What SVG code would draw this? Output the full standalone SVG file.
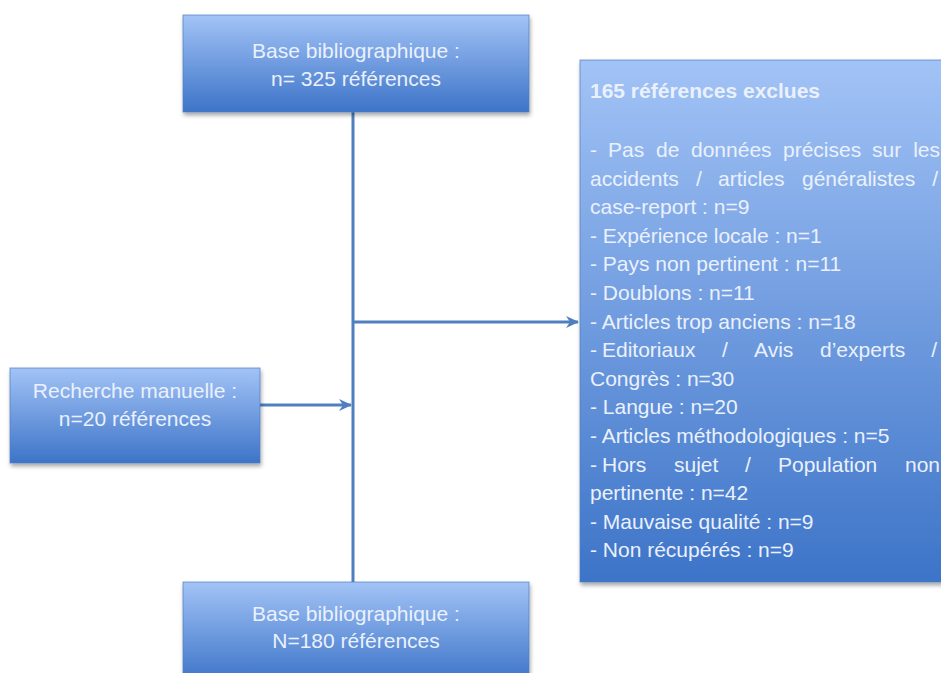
<svg xmlns="http://www.w3.org/2000/svg" width="941" height="673" viewBox="0 0 941 673">
<style>
.box{stroke:#4f7fc0;stroke-width:1;stroke-opacity:0.7;filter:url(#sh)}
.t{font-family:"Liberation Sans",Arial,sans-serif;font-size:21px;fill:#eaf1fc}
.c{text-anchor:middle}
.b{font-weight:bold}
.ln{stroke:#4f7fbf;stroke-width:3;fill:none}
</style>
<defs>
<linearGradient id="g" x1="0" y1="0" x2="0" y2="1">
<stop offset="0" stop-color="#a2c3f6"/>
<stop offset="1" stop-color="#3d74c8"/>
</linearGradient>
<filter id="sh" x="-5%" y="-5%" width="115%" height="120%">
<feGaussianBlur in="SourceAlpha" stdDeviation="2"/>
<feOffset dx="1" dy="3" result="o"/>
<feComponentTransfer><feFuncA type="linear" slope="0.35"/></feComponentTransfer>
<feMerge><feMergeNode/><feMergeNode in="SourceGraphic"/></feMerge>
</filter>
<marker id="ar" markerUnits="userSpaceOnUse" markerWidth="14" markerHeight="14" viewBox="0 0 14 14" refX="12" refY="7" orient="auto">
<path d="M0,1 L13,7 L0,13 L4,7 Z" fill="#4f7fbf"/>
</marker>
</defs>
<rect width="941" height="673" fill="#ffffff"/>
<g id="connectors">
<line class="ln" x1="353" y1="112" x2="353" y2="582"/>
<line class="ln" x1="260" y1="405" x2="351" y2="405" marker-end="url(#ar)"/>
<line class="ln" x1="354" y1="322" x2="578" y2="322" marker-end="url(#ar)"/>
</g>
<g id="node-top">
<rect class="box" x="183" y="15" width="346" height="97" fill="url(#g)"/>
<text class="t c" x="356" y="58">Base bibliographique :</text>
<text class="t c" x="356" y="86">n= 325 références</text>
</g>
<g id="node-left">
<rect class="box" x="10" y="368" width="250" height="95" fill="url(#g)"/>
<text class="t c" x="135" y="398">Recherche manuelle :</text>
<text class="t c" x="135" y="426">n=20 références</text>
</g>
<g id="node-bottom">
<rect class="box" x="183" y="582" width="346" height="100" fill="url(#g)"/>
<text class="t c" x="356" y="621">Base bibliographique :</text>
<text class="t c" x="356" y="648">N=180 références</text>
</g>
<g id="node-excluded">
<rect class="box" x="580" y="60" width="370" height="522" fill="url(#g)"/>
<text class="t b" x="590" y="98">165 références exclues</text>
<text class="t" y="157"><tspan x="590">-</tspan><tspan x="608">Pas</tspan><tspan x="656">de</tspan><tspan x="691">données</tspan><tspan x="783">précises</tspan><tspan x="872">sur</tspan><tspan x="940" text-anchor="end">les</tspan></text>
<text class="t" y="185.6"><tspan x="590">accidents</tspan><tspan x="696">/</tspan><tspan x="718">articles</tspan><tspan x="802">généralistes</tspan><tspan x="938" text-anchor="end">/</tspan></text>
<text class="t" x="590" y="214.2">case-report : n=9</text>
<text class="t" x="590" y="242.8">- Expérience locale : n=1</text>
<text class="t" x="590" y="271.4">- Pays non pertinent : n=11</text>
<text class="t" x="590" y="300">- Doublons : n=11</text>
<text class="t" x="590" y="328.6">- Articles trop anciens : n=18</text>
<text class="t" y="357.2"><tspan x="590">-</tspan><tspan x="602">Editoriaux</tspan><tspan x="722">/</tspan><tspan x="754">Avis</tspan><tspan x="820">d’experts</tspan><tspan x="937" text-anchor="end">/</tspan></text>
<text class="t" x="590" y="385.8">Congrès : n=30</text>
<text class="t" x="590" y="414.4">- Langue : n=20</text>
<text class="t" x="590" y="443">- Articles méthodologiques : n=5</text>
<text class="t" y="471.6"><tspan x="590">-</tspan><tspan x="602">Hors</tspan><tspan x="674">sujet</tspan><tspan x="745">/</tspan><tspan x="778">Population</tspan><tspan x="940" text-anchor="end">non</tspan></text>
<text class="t" x="590" y="500.2">pertinente : n=42</text>
<text class="t" x="590" y="528.8">- Mauvaise qualité : n=9</text>
<text class="t" x="590" y="557.4">- Non récupérés : n=9</text>
</g>
</svg>
